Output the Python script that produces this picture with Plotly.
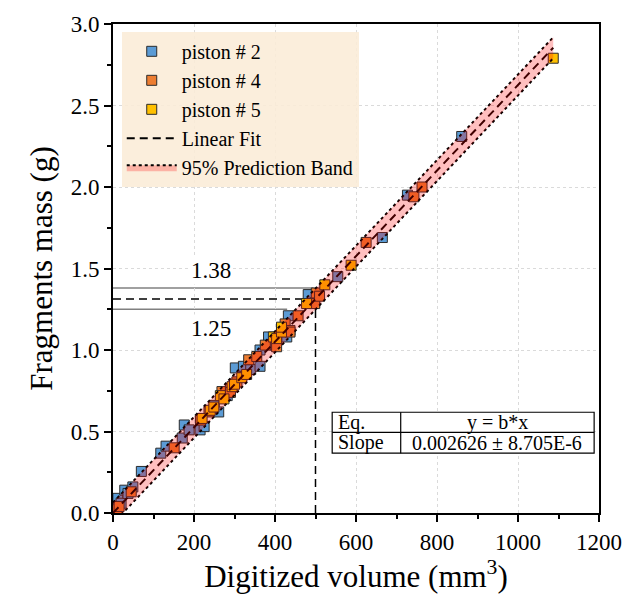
import numpy as np
import plotly.graph_objects as go

# ---- measured fragments: digitized volume (mm^3) vs. mass (g) ----
p2_x = [8, 12, 20, 29, 37, 49, 70, 118, 131, 171, 176, 188, 215, 225, 250, 261,
        282, 302, 322, 340, 363, 363, 384, 400, 429, 433, 482, 498, 555, 665,
        727, 861]
p2_y = [0.03, 0.09, 0.06, 0.14, 0.12, 0.16, 0.255, 0.367, 0.41, 0.46, 0.54, 0.51,
        0.51, 0.53, 0.66, 0.62, 0.72, 0.89, 0.90, 0.88, 0.90, 1.00, 1.08, 1.03,
        1.08, 1.21, 1.34, 1.29, 1.45, 1.69, 1.95, 2.31]

p4_x = [10, 15, 45, 151, 216, 237, 269, 290, 290, 306, 335, 355, 376, 404, 425,
        437, 437, 457, 498, 502, 510, 625, 743, 763]
p4_y = [0.02, 0.04, 0.13, 0.40, 0.57, 0.62, 0.745, 0.76, 0.74, 0.805, 0.94, 0.96,
        1.03, 1.02, 1.16, 1.12, 1.11, 1.21, 1.285, 1.35, 1.33, 1.66, 1.94, 2.00]

p5_x = [220, 240, 249, 265, 274, 294, 300, 318, 330, 396, 404, 416, 416, 478,
        523, 588, 1087]
p5_y = [0.58, 0.63, 0.65, 0.72, 0.70, 0.775, 0.79, 0.83, 0.85, 1.08, 1.07, 1.11,
        1.14, 1.285, 1.40, 1.52, 2.79]

series_names = ["piston # 2", "piston # 4", "piston # 5"]

# ---- fit through the origin ----
slope = 0.002626
slope_err_text = "8.705E-6"
band_half = 0.064          # half-width of the 95% prediction band (g)
fit_x_max = 1087

# reference read-off at 500 mm^3
ref_volume = 500
ref_low, ref_high = 1.25, 1.38

x_ticks = [0, 200, 400, 600, 800, 1000, 1200]
y_ticks = [0.0, 0.5, 1.0, 1.5, 2.0, 2.5, 3.0]

FONT = "Liberation Serif"
colors = ["#5B9BD5", "#ED7D31", "#FFC000"]
BAND_FILL = "rgba(255,0,0,0.25)"

fig = go.Figure()

for name, xs, ys, c in zip(series_names, [p2_x, p4_x, p5_x], [p2_y, p4_y, p5_y], colors):
    fig.add_trace(go.Scatter(
        x=xs, y=ys, mode="markers", name=name,
        marker=dict(symbol="square", size=10, color=c,
                    line=dict(color="#2b2b2b", width=1)),
    ))

xf = np.linspace(0, fit_x_max, 60)
yf = slope * xf
lower = yf - band_half
upper = yf + band_half

# dotted band limits and dashed fit line, above the markers
fig.add_trace(go.Scatter(
    x=xf, y=lower, mode="lines", showlegend=False, hoverinfo="skip",
    line=dict(color="black", dash="dot", width=2),
))
fig.add_trace(go.Scatter(
    x=xf, y=upper, mode="lines", showlegend=False, hoverinfo="skip",
    line=dict(color="black", dash="dot", width=2),
))
fig.add_trace(go.Scatter(
    x=xf, y=yf, mode="lines", name="Linear Fit",
    line=dict(color="black", dash="8px,5px", width=2),
))
# legend entry for the band
fig.add_trace(go.Scatter(
    x=[None], y=[None], mode="lines", fill="toself", fillcolor=BAND_FILL,
    name="95% Prediction Band", line=dict(color="black", dash="dot", width=2),
))

# translucent band fill laid over the markers
band_path = "M " + " L ".join(f"{a},{b}" for a, b in zip(xf, upper))
band_path += " L " + " L ".join(f"{a},{b}" for a, b in zip(xf[::-1], lower[::-1])) + " Z"

ref_mass = slope * ref_volume
shapes = [
    dict(type="path", xref="x", yref="y", path=band_path, fillcolor=BAND_FILL,
         line=dict(width=0), layer="above"),
    dict(type="line", xref="x", yref="y", x0=0, x1=495, y0=ref_high, y1=ref_high,
         line=dict(color="#808080", width=1.5), layer="below"),
    dict(type="line", xref="x", yref="y", x0=0, x1=430, y0=ref_low, y1=ref_low,
         line=dict(color="#808080", width=1.5), layer="below"),
    dict(type="line", xref="x", yref="y", x0=0, x1=ref_volume, y0=ref_mass, y1=ref_mass,
         line=dict(color="black", width=1.5, dash="8px,5px"), layer="below"),
    dict(type="line", xref="x", yref="y", x0=ref_volume, x1=ref_volume, y0=0, y1=ref_mass,
         line=dict(color="black", width=1.5, dash="8px,5px"), layer="below"),
]

# parameter table (paper coordinates)
tx0, tx1, txm = 0.451, 0.990, 0.592
ty0, ty1, tym = 0.1224, 0.206, 0.165
shapes += [
    dict(type="rect", xref="paper", yref="paper", x0=tx0, x1=tx1, y0=ty0, y1=ty1,
         fillcolor="white", line=dict(color="black", width=1.2), layer="above"),
    dict(type="line", xref="paper", yref="paper", x0=tx0, x1=tx1, y0=tym, y1=tym,
         line=dict(color="black", width=1.2), layer="above"),
    dict(type="line", xref="paper", yref="paper", x0=txm, x1=txm, y0=ty0, y1=ty1,
         line=dict(color="black", width=1.2), layer="above"),
]

tfont = dict(family=FONT, size=20, color="black")
annotations = [
    dict(xref="paper", yref="paper", x=tx0 + 0.007, y=(tym + ty1) / 2, text="Eq.",
         showarrow=False, xanchor="left", yanchor="middle", font=tfont),
    dict(xref="paper", yref="paper", x=tx0 + 0.007, y=(ty0 + tym) / 2, text="Slope",
         showarrow=False, xanchor="left", yanchor="middle", font=tfont),
    dict(xref="paper", yref="paper", x=(txm + tx1) / 2, y=(tym + ty1) / 2, text="y = b*x",
         showarrow=False, xanchor="center", yanchor="middle", font=tfont),
    dict(xref="paper", yref="paper", x=(txm + tx1) / 2, y=(ty0 + tym) / 2,
         text=f"{slope:.6f} ± {slope_err_text}",
         showarrow=False, xanchor="center", yanchor="middle", font=tfont),
    dict(xref="x", yref="y", x=242, y=1.49, text=f"{ref_high:.2f}", showarrow=False,
         bgcolor="white", font=dict(family=FONT, size=23, color="black")),
    dict(xref="x", yref="y", x=242, y=1.135, text=f"{ref_low:.2f}", showarrow=False,
         bgcolor="white", font=dict(family=FONT, size=23, color="black")),
]

axis_common = dict(
    showline=True, linecolor="black", linewidth=2, mirror=True,
    ticks="outside", ticklen=7, tickwidth=1.5, tickcolor="black",
    showgrid=True, gridcolor="#dadada", gridwidth=1, griddash="3px,3px",
    zeroline=False,
    tickfont=dict(family=FONT, size=23, color="black"),
)

fig.update_layout(
    width=634, height=597,
    margin=dict(l=113, r=31, t=23, b=84),
    paper_bgcolor="white", plot_bgcolor="white",
    font=dict(family=FONT, color="black"),
    showlegend=True,
    legend=dict(
        x=0.018, y=0.984, xanchor="left", yanchor="top", traceorder="normal",
        bgcolor="rgba(250,236,215,0.88)", borderwidth=0,
        font=dict(family=FONT, size=20, color="black"),
        itemwidth=50, tracegroupgap=0,
    ),
    xaxis=dict(
        range=[0, 1200], tickvals=x_ticks,
        minor=dict(dtick=100, ticks="outside", ticklen=4, tickcolor="black", showgrid=False),
        title=dict(text="Digitized volume (mm<sup>3</sup>)",
                   font=dict(family=FONT, size=31, color="black"), standoff=6),
        **axis_common,
    ),
    yaxis=dict(
        range=[0, 3], tickvals=y_ticks, tickformat=".1f",
        minor=dict(dtick=0.25, ticks="outside", ticklen=4, tickcolor="black", showgrid=False),
        title=dict(text="Fragments mass (g)",
                   font=dict(family=FONT, size=31, color="black"), standoff=9),
        **axis_common,
    ),
    shapes=shapes,
    annotations=annotations,
)

fig.write_html("out.html")
